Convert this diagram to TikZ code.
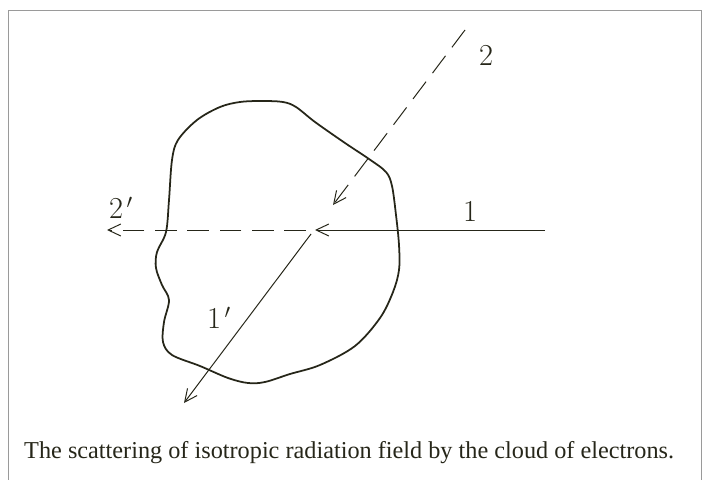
\documentclass[tikz,border=0pt]{standalone}
\usepackage{fontspec}
\setmainfont{Liberation Serif}
\newfontfamily\labelfont{Latin Modern Roman}
\usepackage{tikz}
\usetikzlibrary{arrows.meta,positioning}
\definecolor{ink}{HTML}{262619}
\definecolor{frame}{HTML}{9a9a9a}

\begin{document}
\begin{tikzpicture}[
  x=0.03cm, y=-0.03cm,
  every node/.style={text=ink},
  ray/.style={draw=ink, line width=0.85pt, -{Straight Barb[length=3.8mm,width=3.6mm]}},
  scat/.style={ray, dash pattern=on 6.5mm off 3.2mm},
  cloud/.style={draw=ink, line width=1.5pt},
  lbl/.style={font=\labelfont\fontsize{26}{26}\selectfont, inner sep=0pt}
]
  \useasboundingbox (0,0) rectangle (705,480);

  % frame round the figure
  \draw[frame, line width=0.8pt] (8,480) -- (8,10) -- (701,10) -- (701,480);

  % cloud of electrons
  \draw[cloud] plot[smooth cycle, tension=0.55] coordinates {
    (220,107) (240,102) (262,101) (283,102) (296,107) (315,122) (345,143)
    (369,159) (386,172) (392,186) (396,215) (399,245) (399,270) (393,292)
    (380,318) (355,346) (320,365) (290,374) (265,382) (248,383) (228,378)
    (200,366) (172,355) (163,342) (164,322) (169,300) (162,285) (156,268)
    (157,252) (166,232) (169,200) (172,160) (178,140) (197,120)};

  % end points of the rays
  \coordinate (src1) at (545,230);
  \coordinate (hit1) at (315,230);
  \coordinate (dep2) at (306,230);
  \coordinate (out2) at (107,230);
  \coordinate (src2) at (465,30);
  \coordinate (hit2) at (333,205);
  \coordinate (dep1) at (311,234);
  \coordinate (out1) at (184,403);

  % incident rays
  \draw[ray] (src1) -- (hit1);
  \draw[scat] (src2) -- (hit2);

  % scattered rays
  \draw[scat] (dep2) -- (out2);
  \draw[ray] (dep1) -- (out1);

  % ray labels
  \node[lbl] (l2) at (486,55) {2};
  \node[lbl] (l1) at (470,211) {1};
  \node[lbl] (l2p) at (121,208) {2$^{\,\prime}$};
  \node[lbl] (l1p) at (219,318) {1$^{\,\prime}$};

  % caption
  \node[anchor=base west, inner sep=0pt, font=\fontsize{20.7}{24}\selectfont] (cap) at (24,458)
    {The scattering of isotropic radiation field by the cloud of electrons.};
\end{tikzpicture}
\end{document}
